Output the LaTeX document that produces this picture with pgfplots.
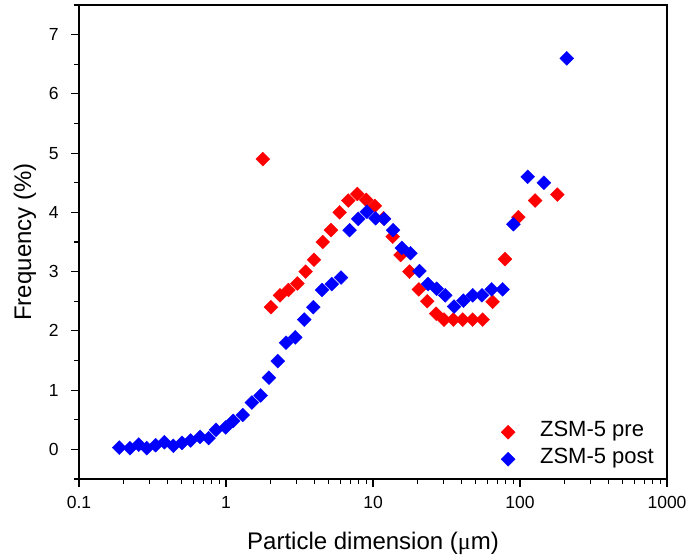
\documentclass[border=0pt]{standalone}
\usepackage{pgfplots}
\pgfplotsset{compat=1.18}
\usepackage{fontspec}
\setmainfont{Liberation Sans}
\newfontfamily\serfont{Liberation Serif}
\definecolor{pred}{RGB}{255,0,0}
\definecolor{pblue}{RGB}{0,0,255}
\pgfplotstableread{
x y
1.78 4.90
2.02 2.40
2.33 2.60
2.66 2.69
3.06 2.80
3.48 3.00
3.97 3.20
4.55 3.50
5.18 3.70
5.93 4.00
6.79 4.20
7.82 4.31
9.0 4.21
10.3 4.11
11.8 3.90
13.6 3.59
15.4 3.28
17.7 3.00
20.5 2.70
23.4 2.50
26.9 2.29
30.4 2.19
35.2 2.19
40.8 2.19
47.6 2.19
55.7 2.19
65.1 2.49
79.1 3.21
97.5 3.92
126.6 4.20
179.5 4.30
}\pre
\pgfplotstableread{
x y
0.188 0.03
0.222 0.02
0.255 0.08
0.289 0.02
0.332 0.07
0.381 0.12
0.438 0.06
0.502 0.11
0.575 0.15
0.666 0.21
0.762 0.19
0.855 0.33
0.995 0.37
1.12 0.48
1.30 0.58
1.50 0.79
1.72 0.91
1.96 1.21
2.25 1.49
2.56 1.80
2.96 1.89
3.41 2.19
3.93 2.40
4.50 2.69
5.24 2.79
6.06 2.90
6.93 3.70
7.94 3.89
9.09 4.01
10.4 3.90
11.9 3.89
13.7 3.70
15.7 3.40
18.0 3.31
20.7 3.01
23.7 2.79
27.1 2.71
31.0 2.60
35.6 2.41
41.2 2.51
47.7 2.60
55.1 2.60
64.1 2.70
76.2 2.70
90.2 3.80
112.8 4.60
145.5 4.50
208 6.60
}\post
\begin{document}
\begin{tikzpicture}
\begin{axis}[
  name=ax,
  at={(0,0)}, anchor=south west,
  scale only axis,
  width=588bp, height=474bp,
  xmode=log,
  xmin=0.1, xmax=1000,
  ymin=-0.5, ymax=7.5,
  ytick={0,1,2,3,4,5,6,7},
  minor ytick={-0.5,0.5,1.5,2.5,3.5,4.5,5.5,6.5,7.5},
  xtick={0.1,1,10,100,1000},
  xticklabels={0.1,1,10,100,1000},
  log ticks with fixed point,
  xtick pos=bottom, ytick pos=left,
  tick align=outside,
  major tick length=8bp, minor tick length=5bp,
  every tick/.style={black, line width=1.1bp},
  axis line style={line width=1.2bp},
  /pgf/number format/assume math mode=true,
  tick label style={font=\fontsize{17.5bp}{21bp}\selectfont},
  yticklabel style={xshift=-9bp},
  xticklabel style={yshift=-6bp},
  label style={font=\fontsize{24bp}{28bp}\selectfont},
  xlabel={Particle dimension ({\serfont μ}m)},
  ylabel={Frequency (\%)},
  xlabel style={at={(axis description cs:0.5,-0.135)}, anchor=center},
  ylabel style={at={(axis description cs:-0.092,0.5)}, anchor=center, rotate=0},
  legend style={draw=none, fill=none, at={(1,0)}, anchor=south east,
    xshift=-9bp, yshift=4bp, row sep=0bp,
    font=\fontsize{22bp}{26bp}\selectfont,
    nodes={inner sep=1bp, text height=17bp, text depth=8bp}},
  legend cell align=left,
  legend image code/.code={\draw[only marks] plot coordinates {(8bp,0bp)};
    \path[draw=none,fill=none] (0bp,-1bp) rectangle (39bp,1bp);},
]
\addplot[only marks, mark=square*, mark size=4.9bp, mark options={rotate=45, color=pred, fill=pred}] table {\pre};
\addlegendentry{ZSM-5 pre}
\addplot[only marks, mark=square*, mark size=4.9bp, mark options={rotate=45, color=pblue, fill=pblue}] table {\post};
\addlegendentry{ZSM-5 post}
\end{axis}
\draw[line width=2bp] (ax.north west) -- (ax.south west) -- (ax.south east);
\pgfresetboundingbox
\path[use as bounding box] ([shift={(-79bp,-81bp)}]ax.south west) rectangle ([shift={(24bp,5bp)}]ax.north east);
\end{tikzpicture}
\end{document}
